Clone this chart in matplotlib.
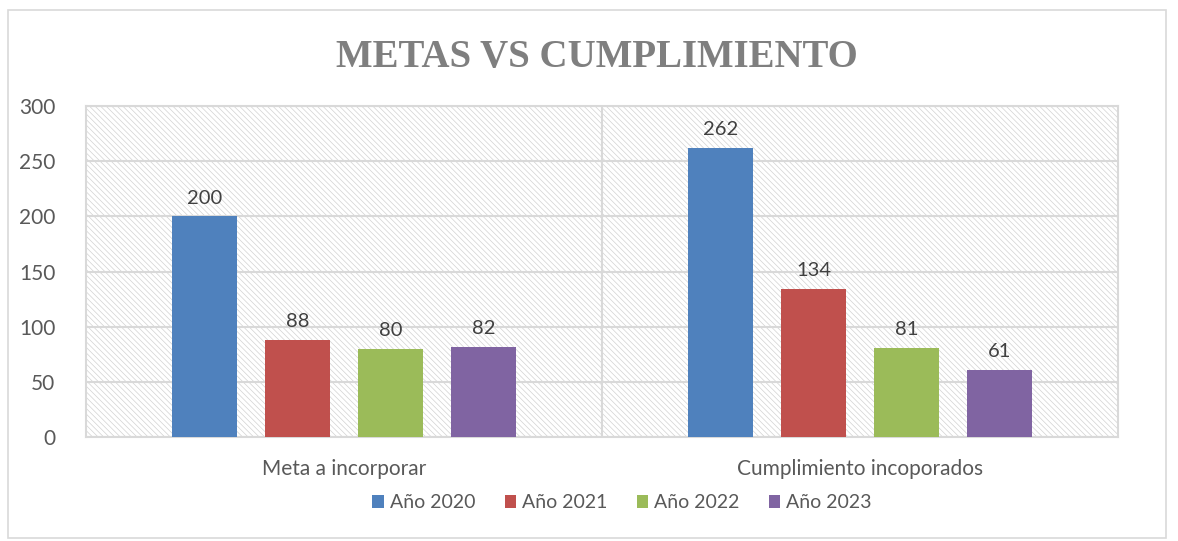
import matplotlib.pyplot as plt
import numpy as np
from matplotlib.patches import Rectangle

categories = ["Meta a incorporar", "Cumplimiento incoporados"]
series = ["Año 2020", "Año 2021", "Año 2022", "Año 2023"]
values_2020 = [200, 262]
values_2021 = [88, 134]
values_2022 = [80, 81]
values_2023 = [82, 61]
colors = ["#4F81BD", "#C0504D", "#9BBB59", "#8064A2"]

plt.rcParams["font.family"] = ["Lato", "DejaVu Sans"]
plt.rcParams["hatch.linewidth"] = 0.5
plt.rcParams["hatch.color"] = "#d2d2d2"

fig = plt.figure(figsize=(11.78, 5.41), dpi=100)
ax = fig.add_axes([86 / 1178, 1 - 437 / 541, (1118 - 86) / 1178, (437 - 106) / 541])

# outer chart border
fig.patches.append(Rectangle((8 / 1178, 1 - 538 / 541), (1166 - 8) / 1178, (538 - 10) / 541,
                             transform=fig.transFigure, fill=False, edgecolor="#d9d9d9", lw=1.2))

# hatched plot area
ax.patch.set_facecolor("white")
ax.add_patch(Rectangle((0, 0), 1, 1, transform=ax.transAxes, facecolor="white",
                       edgecolor="#d2d2d2", hatch="\\\\\\\\\\\\", lw=0, zorder=0))

x = np.arange(len(categories))
width = 0.126
step = 0.18
all_vals = [values_2020, values_2021, values_2022, values_2023]
for i, (name, vals) in enumerate(zip(series, all_vals)):
    offset = (i - 1.5) * step
    rects = ax.bar(x + offset, vals, width=width, color=colors[i], label=name, zorder=3)
    for rect, v in zip(rects, vals):
        ax.annotate(f"{v}", xy=(rect.get_x() + rect.get_width() / 2, v),
                    xytext=(0, 7), textcoords="offset points",
                    ha="center", va="bottom", fontsize=14.5, color="#404040")

ax.set_xlim(-0.5, 1.5)
ax.set_ylim(0, 300)
ax.set_yticks(np.arange(0, 301, 50))
ax.grid(axis="y", color="#d9d9d9", lw=1.5, zorder=1)
ax.axvline(0.5, color="#d9d9d9", lw=1.5, zorder=1)
for s in ax.spines.values():
    s.set_color("#d9d9d9")
    s.set_linewidth(1.5)
ax.tick_params(axis="both", length=0, labelsize=15, labelcolor="#595959")
ax.tick_params(axis="y", pad=22)
ax.tick_params(axis="x", pad=16)
ax.set_xticks(x)
ax.set_xticklabels(categories)

fig.text(597 / 1178, 1 - 57 / 541, "METAS VS CUMPLIMIENTO", ha="center", va="center",
         fontsize=28, fontweight="bold", color="#7f7f7f", family="Liberation Serif")

ax.legend(loc="center", bbox_to_anchor=(622 / 1178, 1 - 503 / 541), bbox_transform=fig.transFigure,
          ncol=4, frameon=False, fontsize=14, handlelength=0.6, handleheight=0.6,
          handletextpad=0.3, columnspacing=1.5, labelcolor="#595959")

fig.savefig("out.png", dpi=100)
